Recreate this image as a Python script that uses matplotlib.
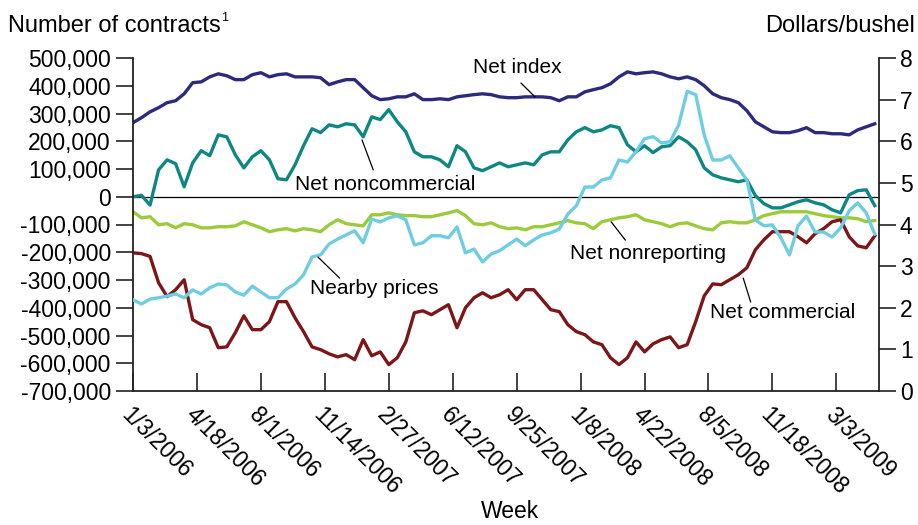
import matplotlib
matplotlib.use("Agg")
import matplotlib.pyplot as plt
import matplotlib.ticker as mticker
import pandas as pd

plt.rcParams['font.family'] = ['Liberation Sans', 'DejaVu Sans']

# weekly data read every second week, 1/3/2006 .. 5/5/2009
weeks = pd.date_range("2006-01-03", periods=88, freq="14D")

net_index = [267, 285, 306, 321, 339, 346, 371, 411, 414, 432, 443, 436, 422, 422, 440, 447,
             432, 440, 443, 432, 432, 432, 429, 404, 414, 422, 422, 393, 364, 350, 353, 360,
             360, 371, 350, 350, 353, 350, 360, 364, 368, 371, 368, 360, 357, 357, 360, 360,
             360, 357, 346, 360, 360, 378, 386, 393, 407, 432, 450, 443, 447, 450, 443, 432,
             425, 432, 422, 400, 371, 357, 350, 339, 310, 270, 252, 234, 231, 231, 238, 249,
             231, 231, 227, 227, 223, 241, 252, 263]
net_noncommercial = [0, 5, -30, 97, 133, 119, 36, 122, 166, 148, 223, 216, 151, 104, 144, 166,
                     133, 65, 61, 115, 184, 245, 231, 259, 252, 263, 259, 216, 288, 278, 314, 270,
                     234, 162, 144, 144, 133, 108, 184, 162, 104, 94, 108, 122, 108, 115, 122, 115,
                     151, 162, 162, 205, 234, 249, 234, 241, 256, 249, 187, 162, 184, 159, 180, 184,
                     216, 198, 169, 104, 79, 68, 61, 54, 61, 4, -25, -40, -40, -29, -18, -11,
                     -22, -29, -47, -58, 7, 22, 25, -32]
net_nonreporting = [-54, -76, -72, -101, -97, -112, -97, -101, -112, -112, -108, -108, -105, -90, -101, -112,
                    -126, -119, -115, -123, -115, -119, -126, -101, -83, -97, -101, -105, -65, -65, -58, -65,
                    -68, -68, -72, -72, -65, -58, -50, -68, -97, -101, -94, -108, -115, -112, -119, -108,
                    -108, -101, -94, -86, -94, -97, -115, -90, -83, -76, -72, -65, -83, -90, -97, -108,
                    -97, -94, -105, -115, -119, -94, -90, -94, -94, -83, -68, -61, -54, -54, -54, -54,
                    -61, -68, -72, -76, -76, -79, -90, -86]
net_commercial = [-202, -205, -215, -310, -360, -335, -299, -443, -461, -472, -544, -541, -490, -429, -479, -479,
                  -450, -378, -378, -436, -486, -541, -551, -566, -577, -569, -587, -515, -573, -559, -605, -580,
                  -523, -418, -411, -425, -407, -389, -472, -400, -364, -346, -364, -353, -335, -371, -335, -335,
                  -371, -407, -414, -461, -486, -497, -523, -533, -580, -605, -580, -523, -559, -530, -515, -505,
                  -544, -533, -450, -357, -314, -317, -299, -281, -256, -191, -155, -126, -126, -126, -144, -166,
                  -133, -115, -90, -83, -144, -177, -184, -141]
nearby_prices = [2.19, 2.09, 2.21, 2.24, 2.28, 2.33, 2.24, 2.43, 2.33, 2.48, 2.57, 2.55, 2.38, 2.30, 2.52, 2.38,
                 2.24, 2.24, 2.45, 2.57, 2.79, 3.22, 3.27, 3.53, 3.65, 3.75, 3.85, 3.56, 4.13, 4.06, 4.16, 4.21,
                 4.11, 3.51, 3.56, 3.73, 3.73, 3.68, 3.94, 3.32, 3.41, 3.10, 3.29, 3.37, 3.51, 3.65, 3.49, 3.63,
                 3.75, 3.80, 3.89, 4.25, 4.45, 4.90, 4.90, 5.07, 5.12, 5.55, 5.50, 5.75, 6.06, 6.11, 5.96, 5.99,
                 6.39, 7.20, 7.12, 6.15, 5.55, 5.55, 5.65, 5.36, 5.07, 4.11, 3.97, 3.99, 3.68, 3.27, 3.97, 4.20,
                 3.82, 3.82, 3.70, 3.92, 4.33, 4.52, 4.28, 3.77]

tick_labels = ["1/3/2006", "4/18/2006", "8/1/2006", "11/14/2006", "2/27/2007", "6/12/2007",
               "9/25/2007", "1/8/2008", "4/22/2008", "8/5/2008", "11/18/2008", "3/3/2009"]
left_ticks = list(range(-700000, 500001, 100000))
right_ticks = list(range(0, 9))

c_index = "#2B2A7C"
c_noncom = "#0E8783"
c_prices = "#6ECDE0"
c_nonrep = "#9BCB3A"
c_com = "#7C1619"

fig = plt.figure(figsize=(9.18, 5.25), dpi=100)
ax = fig.add_axes([133 / 918, 1 - 391 / 525, 746 / 918, 333 / 525])
ax2 = ax.twinx()

lw = 2.4
ax.axhline(0, color="black", lw=0.9, zorder=1)
ax.plot(weeks, [v * 1000 for v in net_nonreporting], color=c_nonrep, lw=lw)
ax.plot(weeks, [v * 1000 for v in net_commercial], color=c_com, lw=lw)
ax.plot(weeks, [v * 1000 for v in net_noncommercial], color=c_noncom, lw=lw)
ax.plot(weeks, [v * 1000 for v in net_index], color=c_index, lw=lw)
ax2.plot(weeks, nearby_prices, color=c_prices, lw=lw)

ax.set_ylim(-700000, 500000)
ax2.set_ylim(0, 8)
ax.set_xlim(weeks[0], weeks[0] + pd.Timedelta(weeks=175))

ax.set_yticks(left_ticks)
ax.yaxis.set_major_formatter(mticker.FuncFormatter(lambda v, p: f"{v:,.0f}"))
ax2.set_yticks(right_ticks)

tick_pos = pd.to_datetime(tick_labels, format="%m/%d/%Y")
ax.set_xticks(tick_pos)
ax.set_xticklabels(tick_labels, rotation=-45, ha="left", va="top", rotation_mode="anchor")

for a in (ax, ax2):
    a.spines["top"].set_visible(False)
    for s in a.spines.values():
        s.set_linewidth(1.3)
        s.set_color("#222222")
ax.spines["right"].set_visible(False)
ax2.spines["left"].set_visible(False)
ax2.spines["bottom"].set_visible(False)

ax.tick_params(axis="y", direction="out", length=12, width=1.2, labelsize=16.5, pad=4, color="#222222")
ax.tick_params(axis="x", direction="in", length=13, width=1.2, labelsize=16.5, pad=9, color="#222222")
ax2.tick_params(axis="y", direction="out", length=12, width=1.2, labelsize=16.5, pad=3, color="#222222")

fig.text(8 / 918, 1 - 32 / 525, "Number of contracts", fontsize=17, va="baseline")
fig.text(221 / 918, 1 - 21 / 525, "1", fontsize=9, va="baseline")
fig.text(915 / 918, 1 - 32 / 525, "Dollars/bushel", fontsize=17, va="baseline", ha="right")
fig.text(510 / 918, 1 - 512 / 525, "Week", fontsize=16.5, ha="center", va="center")

# series labels with leader lines (axes fractions)
labels = [
    ("Net index", (0.456, 0.970), (0.520, 0.925), (0.539, 0.883)),
    ("Net noncommercial", (0.217, 0.619), (0.307, 0.754), (0.322, 0.664)),
    ("Nearby prices", (0.237, 0.309), (0.248, 0.402), (0.277, 0.339)),
    ("Net nonreporting", (0.586, 0.414), (0.641, 0.508), (0.660, 0.453)),
    ("Net commercial", (0.773, 0.237), (0.818, 0.339), (0.828, 0.267)),
]
for txt, tpos, p1, p2 in labels:
    ax2.annotate("", xy=p1, xytext=p2, xycoords="axes fraction", textcoords="axes fraction",
                 arrowprops=dict(arrowstyle="-", color="black", lw=0.9, shrinkA=0, shrinkB=0))
    ax2.text(tpos[0], tpos[1], txt, transform=ax.transAxes, fontsize=15, ha="left", va="center")

fig.savefig("out.png", dpi=100)
